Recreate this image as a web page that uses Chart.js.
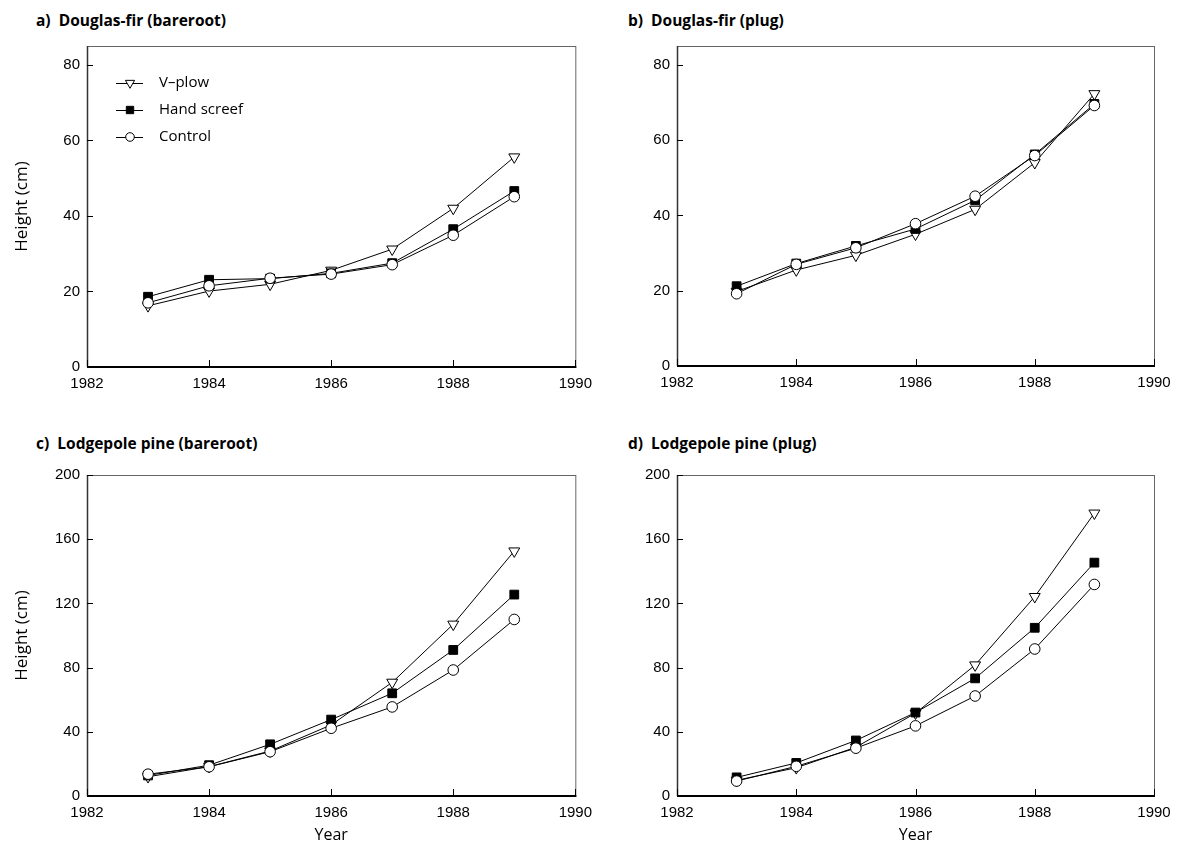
<!DOCTYPE html>
<html>
<head>
<meta charset="utf-8">
<title>Seedling height by site preparation</title>
<script src="https://cdn.jsdelivr.net/npm/chart.js@4.4.0/dist/chart.umd.min.js"></script>
<style>
  body { margin: 0; background: #fff; }
  #page { position: relative; width: 1199px; height: 846px; overflow: hidden; }
  .panel-title {
    position: absolute;
    font: bold 15.5px "Open Sans", sans-serif;
    line-height: 20px;
    color: #000;
    white-space: pre;
  }
  canvas { position: absolute; }
</style>
</head>
<body>
<div id="page">
  <div class="panel-title" style="left:36px;top:10px">a)  Douglas-fir (bareroot)</div>
  <div class="panel-title" style="left:628px;top:10px">b)  Douglas-fir (plug)</div>
  <div class="panel-title" style="left:36px;top:433px">c)  Lodgepole pine (bareroot)</div>
  <div class="panel-title" style="left:628px;top:433px">d)  Lodgepole pine (plug)</div>

  <canvas id="chartA" width="600" height="380" style="left:0;top:30px"></canvas>
  <canvas id="chartB" width="599" height="380" style="left:600px;top:30px"></canvas>
  <canvas id="chartC" width="600" height="391" style="left:0;top:455px"></canvas>
  <canvas id="chartD" width="599" height="391" style="left:600px;top:455px"></canvas>
</div>

<script>
const years = [1983, 1984, 1985, 1986, 1987, 1988, 1989];
const seriesNames = ["V–plow", "Hand screef", "Control"];
const yearTicks = [1982, 1984, 1986, 1988, 1990];

// heights in cm
const dfBareVplow = [16.2, 20.1, 21.9, 25.6, 31.2, 42.0, 55.6];
const dfBareHand = [18.6, 23.1, 23.4, 24.8, 27.5, 36.5, 46.6];
const dfBareControl = [17.0, 21.5, 23.5, 24.6, 27.1, 34.9, 45.1];

const dfPlugVplow = [19.8, 25.5, 29.4, 35.0, 41.6, 54.0, 72.3];
const dfPlugHand = [21.2, 27.2, 31.9, 36.4, 44.0, 56.2, 69.6];
const dfPlugControl = [19.2, 27.0, 31.4, 37.8, 45.1, 55.9, 69.2];

const lpBareVplow = [12.0, 18.3, 28.0, 44.3, 70.8, 107.0, 152.6];
const lpBareHand = [12.8, 19.2, 32.2, 47.6, 64.0, 91.0, 125.5];
const lpBareControl = [13.6, 18.2, 27.6, 42.2, 55.5, 78.5, 110.0];

const lpPlugVplow = [9.8, 17.6, 30.4, 51.6, 81.6, 124.2, 176.2];
const lpPlugHand = [11.6, 20.6, 34.6, 52.0, 73.3, 104.8, 145.4];
const lpPlugControl = [9.3, 18.5, 29.8, 43.7, 62.3, 91.6, 131.8];

const tickFont = { family: "'Liberation Sans', Arial, sans-serif", size: 15 };
const titleFont = { family: "'Open Sans', sans-serif", size: 16 };
const yTitleFont = { family: "'Open Sans', sans-serif", size: 17 };

// marker look for each treatment
const markers = [
  { pointStyle: "triangle", rotation: 180, radius: 6.3, fill: "#fff" },
  { pointStyle: "rect", rotation: 0, radius: 6.2, fill: "#000" },
  { pointStyle: "circle", rotation: 0, radius: 5.3, fill: "#fff" },
];

function toPoints(values) {
  return values.map((v, i) => ({ x: years[i], y: v }));
}

// box around the plot with short inward tick marks
const framePlugin = {
  id: "frame",
  beforeDatasetsDraw(chart) {
    const { ctx, chartArea: a, scales } = chart;
    ctx.save();
    ctx.strokeStyle = "#666";
    ctx.lineWidth = 1;
    ctx.strokeRect(a.left + 0.5, a.top + 0.5, a.right - a.left, a.bottom - a.top);
    ctx.strokeStyle = "#333";
    ctx.lineWidth = 1.5;
    ctx.beginPath();
    ctx.moveTo(a.left + 0.5, a.top);
    ctx.lineTo(a.left + 0.5, a.bottom);
    ctx.stroke();
    ctx.strokeStyle = "#000";
    ctx.lineWidth = 2;
    ctx.beginPath();
    ctx.moveTo(a.left, a.bottom);
    ctx.lineTo(a.right + 1, a.bottom);
    ctx.stroke();

    ctx.lineWidth = 1;
    ctx.strokeStyle = "#000";
    ctx.beginPath();
    scales.x.ticks.forEach((t) => {
      const px = Math.round(scales.x.getPixelForValue(t.value)) + 0.5;
      ctx.moveTo(px, a.bottom);
      ctx.lineTo(px, a.bottom - 7);
    });
    scales.y.ticks.forEach((t) => {
      const py = Math.round(scales.y.getPixelForValue(t.value)) + 0.5;
      ctx.moveTo(a.left, py);
      ctx.lineTo(a.left + 6, py);
    });
    ctx.stroke();
    ctx.restore();
  },
};

// key drawn inside the first panel
const keyPlugin = {
  id: "key",
  afterDraw(chart) {
    const { ctx, chartArea: a } = chart;
    ctx.save();
    ctx.font = "15px 'Open Sans', sans-serif";
    ctx.textBaseline = "middle";
    seriesNames.forEach((name, i) => {
      const y = a.top + 37 + i * 27;
      const cx = a.left + 43;
      ctx.strokeStyle = "#000";
      ctx.lineWidth = 1;
      ctx.beginPath();
      ctx.moveTo(a.left + 29, y + 0.5);
      ctx.lineTo(a.left + 56, y + 0.5);
      ctx.stroke();
      const m = markers[i];
      ctx.fillStyle = m.fill;
      Chart.helpers.drawPoint(ctx, {
        pointStyle: m.pointStyle,
        rotation: m.rotation,
        radius: m.radius - 1,
        borderWidth: 1,
      }, cx, y);
      ctx.fillStyle = "#000";
      ctx.fillText(name, a.left + 72, y);
    });
    ctx.restore();
  },
};

function makeChart(id, series, cfg) {
  const datasets = series.map((values, i) => ({
    label: seriesNames[i],
    data: toPoints(values),
    borderColor: "#000",
    borderWidth: 1,
    pointStyle: markers[i].pointStyle,
    pointRotation: markers[i].rotation,
    pointRadius: markers[i].radius,
    pointBackgroundColor: markers[i].fill,
    pointBorderColor: "#000",
    pointBorderWidth: 1,
    tension: 0,
    order: 2 - i,
  }));

  return new Chart(document.getElementById(id), {
    type: "line",
    data: { datasets: datasets },
    options: {
      responsive: false,
      animation: false,
      events: [],
      layout: { padding: { top: cfg.top, right: cfg.right, left: 0, bottom: 0 } },
      plugins: { legend: { display: false }, tooltip: { enabled: false } },
      scales: {
        x: {
          type: "linear",
          min: yearTicks[0],
          max: yearTicks[yearTicks.length - 1],
          afterBuildTicks: (s) => { s.ticks = yearTicks.map((v) => ({ value: v })); },
          ticks: { callback: (v) => String(v), font: tickFont, color: "#000", padding: 8, maxRotation: 0 },
          grid: { display: false, drawTicks: false },
          border: { display: false },
          title: { display: cfg.xTitle, text: "Year", font: titleFont, color: "#000", padding: { top: 0, bottom: 1 } },
          afterFit: (s) => { s.height = cfg.xHeight; },
        },
        y: {
          min: 0,
          max: cfg.yMax,
          ticks: { stepSize: cfg.yStep, includeBounds: false, font: tickFont, color: "#000", padding: 7 },
          grid: { display: false, drawTicks: false },
          border: { display: false },
          title: { display: cfg.yTitle, text: "Height (cm)", font: yTitleFont, color: "#000", padding: { top: 12, bottom: 0 } },
          afterFit: (s) => { s.width = cfg.yWidth; },
        },
      },
    },
    plugins: cfg.key ? [framePlugin, keyPlugin] : [framePlugin],
  });
}

makeChart("chartA", [dfBareVplow, dfBareHand, dfBareControl],
  { top: 15, right: 19, xHeight: 43, yWidth: 87, yMax: 85, yStep: 20, yTitle: true, xTitle: false, key: true });
makeChart("chartB", [dfPlugVplow, dfPlugHand, dfPlugControl],
  { top: 16, right: 45, xHeight: 44, yWidth: 77, yMax: 85, yStep: 20, yTitle: false, xTitle: false, key: false });
makeChart("chartC", [lpBareVplow, lpBareHand, lpBareControl],
  { top: 20, right: 19, xHeight: 50, yWidth: 87, yMax: 200, yStep: 40, yTitle: true, xTitle: true, key: false });
makeChart("chartD", [lpPlugVplow, lpPlugHand, lpPlugControl],
  { top: 20, right: 45, xHeight: 50, yWidth: 77, yMax: 200, yStep: 40, yTitle: false, xTitle: true, key: false });
</script>
</body>
</html>
